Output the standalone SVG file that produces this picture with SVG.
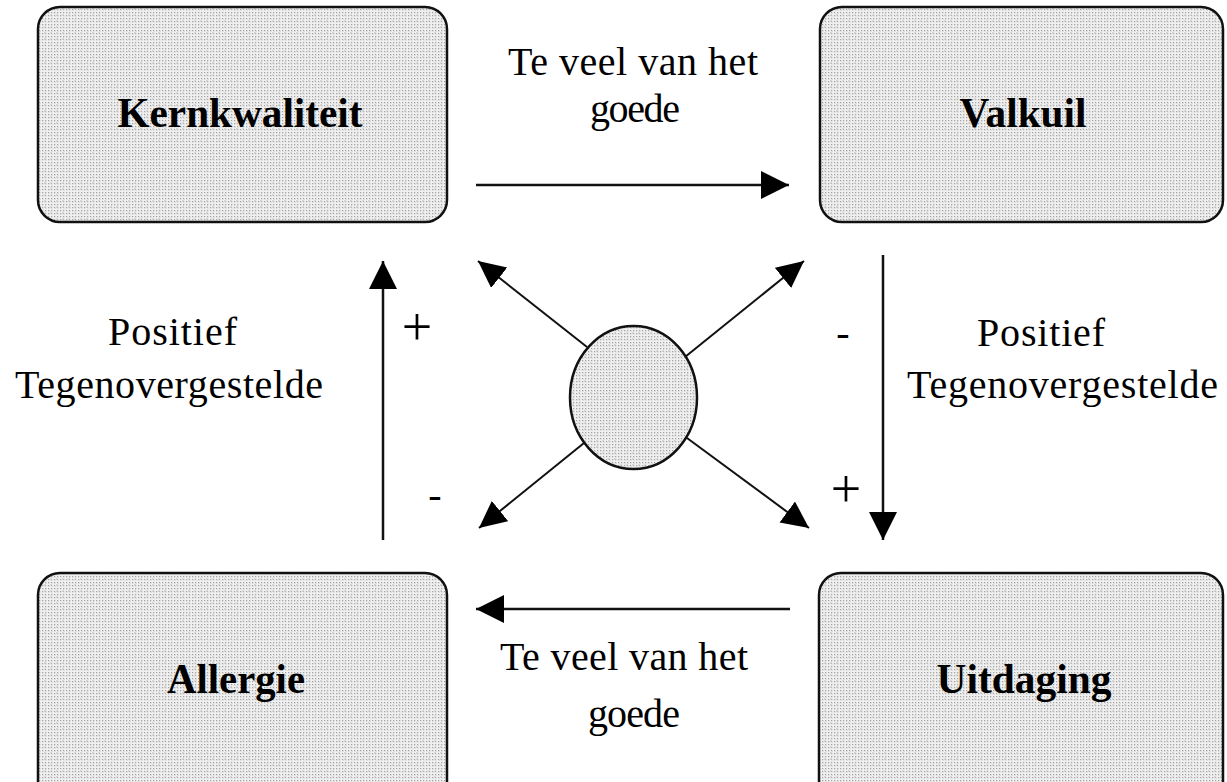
<svg xmlns="http://www.w3.org/2000/svg" width="1227" height="782" viewBox="0 0 1227 782">
<style>
.box{stroke:#111;stroke-width:2.5;fill:url(#dots)}
.lbl{font-family:"Liberation Serif","Times New Roman",serif;font-size:42px;font-weight:bold;fill:#000;text-anchor:middle}
.txt{font-family:"Liberation Serif","Times New Roman",serif;font-size:40px;fill:#000}
.sgn{font-family:"Liberation Serif","Times New Roman",serif;font-size:54px;fill:#000;text-anchor:middle}
.ln{stroke:#111;stroke-width:2.5;fill:none}
.dg{stroke:#111;stroke-width:2;fill:none}
</style>
<defs>
<pattern id="dots" width="6" height="6" patternUnits="userSpaceOnUse">
<rect width="6" height="6" fill="#f0f0f0"/>
<rect x="0" y="0" width="1.2" height="1.2" fill="#a0a0a0"/>
<rect x="3" y="0" width="1.2" height="1.2" fill="#a0a0a0"/>
<rect x="0" y="3" width="1.2" height="1.2" fill="#a0a0a0"/>
<rect x="3" y="3" width="1.2" height="1.2" fill="#a0a0a0"/>
<path d="M1.5,1.5 L4.5,4.5 M4.5,1.5 L1.5,4.5" stroke="#c8c8c8" stroke-width="0.6"/>
</pattern>
<marker id="ah" markerUnits="userSpaceOnUse" markerWidth="30" markerHeight="30" refX="28" refY="14" orient="auto">
<path d="M0,0 L28,14 L0,28 z" fill="#000"/>
</marker>
<marker id="ahs" markerUnits="userSpaceOnUse" markerWidth="30" markerHeight="30" refX="27" refY="13" orient="auto">
<path d="M0,0 L27,13 L0,26 z" fill="#000"/>
</marker>
</defs>
<g id="connectors">
<line class="ln" x1="476" y1="185" x2="789" y2="185" marker-end="url(#ah)"/>
<line class="ln" x1="790" y1="609" x2="476" y2="609" marker-end="url(#ah)"/>
<line class="ln" x1="383" y1="540" x2="383" y2="261" marker-end="url(#ah)"/>
<line class="ln" x1="883" y1="255" x2="883" y2="540" marker-end="url(#ah)"/>
<line class="dg" x1="587" y1="347" x2="478" y2="261" marker-end="url(#ahs)"/>
<line class="dg" x1="685" y1="357" x2="804" y2="261" marker-end="url(#ahs)"/>
<line class="dg" x1="584" y1="443" x2="479" y2="528" marker-end="url(#ahs)"/>
<line class="dg" x1="687" y1="438" x2="809" y2="528" marker-end="url(#ahs)"/>
</g>
<g id="node-kernkwaliteit">
<rect class="box" x="38" y="7" width="409" height="215" rx="22"/>
<text class="lbl" x="240" y="127" textLength="245" lengthAdjust="spacingAndGlyphs">Kernkwaliteit</text>
</g>
<g id="node-valkuil">
<rect class="box" x="820" y="7" width="403" height="215" rx="22"/>
<text class="lbl" x="1023" y="127" textLength="127" lengthAdjust="spacingAndGlyphs">Valkuil</text>
</g>
<g id="node-allergie">
<rect class="box" x="38" y="573" width="409" height="230" rx="22"/>
<text class="lbl" x="236" y="693" textLength="138" lengthAdjust="spacingAndGlyphs">Allergie</text>
</g>
<g id="node-uitdaging">
<rect class="box" x="819" y="573" width="404" height="230" rx="22"/>
<text class="lbl" x="1024" y="693" textLength="175" lengthAdjust="spacingAndGlyphs">Uitdaging</text>
</g>
<g id="node-center">
<ellipse class="box" cx="633.5" cy="397.5" rx="63.5" ry="71.5"/>
</g>
<g id="labels">
<text class="txt" x="508" y="75" textLength="250" lengthAdjust="spacing">Te veel van het</text>
<text class="txt" x="590" y="122" textLength="90" lengthAdjust="spacing">goede</text>
<text class="txt" x="500" y="670" textLength="248" lengthAdjust="spacing">Te veel van het</text>
<text class="txt" x="588" y="727" textLength="92" lengthAdjust="spacing">goede</text>
<text class="txt" x="108" y="345" textLength="129" lengthAdjust="spacing">Positief</text>
<text class="txt" x="15" y="398" textLength="308" lengthAdjust="spacing">Tegenovergestelde</text>
<text class="txt" x="977" y="346" textLength="128" lengthAdjust="spacing">Positief</text>
<text class="txt" x="907" y="398" textLength="311" lengthAdjust="spacing">Tegenovergestelde</text>
<text class="sgn" x="417" y="345">+</text>
<text class="txt" x="435" y="508" text-anchor="middle">-</text>
<text class="txt" x="843" y="346" text-anchor="middle">-</text>
<text class="sgn" x="846" y="507">+</text>
</g>
</svg>
